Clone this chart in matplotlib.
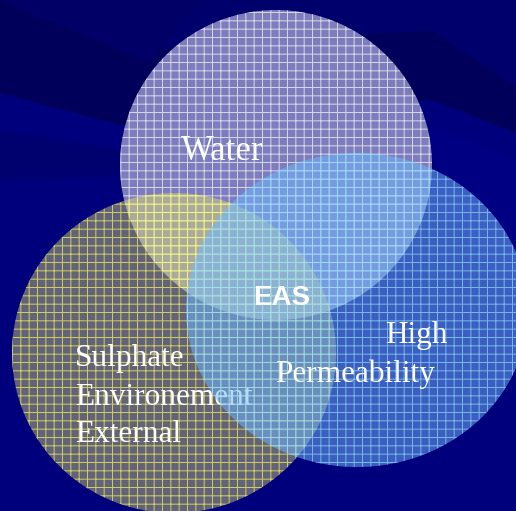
import matplotlib
matplotlib.use("Agg")
import matplotlib.pyplot as plt
from matplotlib.patches import Ellipse, Polygon

# set labels (one text line per entry)
water_lines = ["Water"]
sulphate_lines = ["Sulphate", "Environement", "External"]
perm_lines = ["High", "Permeability"]
centre_label = "EAS"

W, H = 516, 511
BASE = '#00007c'
plt.rcParams['hatch.linewidth'] = 0.7

fig = plt.figure(figsize=(W / 100, H / 100), dpi=100)
ax = fig.add_axes([0, 0, 1, 1])
ax.set_xlim(0, W)
ax.set_ylim(H, 0)
ax.axis('off')

# background: navy with darker diagonal streaks
ax.add_patch(Polygon([(0, 0), (W, 0), (W, H), (0, H)], closed=True,
                     facecolor=BASE, edgecolor='none', zorder=0))
bands = [
    ([(0, 0), (516, 0), (516, 87), (432, 30), (120, 50)], '#00006c'),
    ([(0, 0), (120, 50), (432, 30), (516, 87), (516, 133), (432, 100),
      (120, 125), (0, 93)], '#00005a'),
    ([(0, 0), (200, 0), (150, 63)], '#000066'),
    ([(0, 130), (120, 150), (300, 170), (0, 180)], '#00006e'),
    ([(432, 125), (516, 160), (516, 300), (432, 200)], '#000082'),
]
for pts, c in bands:
    ax.add_patch(Polygon(pts, closed=True, facecolor=c, edgecolor='none', zorder=0.5))

# circles (centre, width, height in pixel units)
water_geom = ((276, 165), 312, 310)
sulph_geom = ((174, 353), 324, 320)
perm_geom = ((357, 310), 342, 314)

# plain backing so the streaks don't show through the top circle
ax.add_patch(Ellipse(*water_geom, facecolor=BASE, edgecolor='none', zorder=0.8))

water = Ellipse(*water_geom, facecolor=(0.98, 0.98, 1.0, 0.50),
                edgecolor=(1, 1, 1, 0.7), lw=0, hatch='++', zorder=1)
sulph = Ellipse(*sulph_geom, facecolor=(0.92, 0.92, 0.45, 0.42),
                edgecolor=(1.0, 1.0, 0.35, 0.7), lw=0, hatch='++', zorder=2)
perm = Ellipse(*perm_geom, facecolor=(0.45, 0.72, 1.0, 0.52),
               edgecolor=(0.6, 0.9, 1.0, 0.65), lw=0, hatch='++', zorder=4)
for p in (water, sulph, perm):
    ax.add_patch(p)

serif = dict(family='Liberation Serif', color='white', va='baseline', ha='left')

ax.text(181, 160, water_lines[0], fontsize=25, zorder=5, **serif)
for line, y in zip(sulphate_lines, [366, 405, 442]):
    ax.text(75, y, line, fontsize=22.5, zorder=3, **serif)
for line, (x, y) in zip(perm_lines, [(385, 343), (275, 382)]):
    ax.text(x, y, line, fontsize=22.5, zorder=5, **serif)
ax.text(253, 305, centre_label, family='Liberation Sans', fontweight='bold',
        fontsize=20, color='white', va='baseline', ha='left', zorder=6)

fig.savefig('out.png', dpi=100)
